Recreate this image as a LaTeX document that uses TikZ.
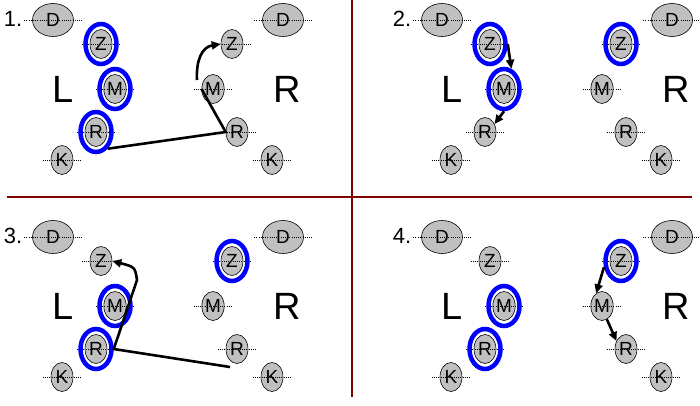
\documentclass[tikz,border=0pt]{standalone}
\usepackage{fontspec}
\setmainfont{Liberation Sans}
\usetikzlibrary{shapes.geometric,arrows.meta}
\definecolor{stonegray}{HTML}{C0C0C0}
\definecolor{ringblue}{HTML}{0000FF}
\definecolor{splitred}{HTML}{800000}
\tikzset{
    dotline/.style={draw=black, line width=0.6pt, dash pattern=on 1pt off 1.2pt},
    stone/.style={ellipse, draw=black, line width=0.6pt, fill=stonegray, inner sep=0pt,
        minimum width=22pt, minimum height=29pt, font=\fontsize{19}{19}\selectfont,
        append after command={([xshift=-8pt]\tikzlastnode.west) edge[dotline] ([xshift=8pt]\tikzlastnode.east)}},
    bigstone/.style={stone, minimum width=41pt, minimum height=33pt},
    ring/.style={ellipse, draw=ringblue, line width=4.5pt, inner sep=0pt, minimum width=31pt, minimum height=40pt},
    side/.style={font=\fontsize{38}{38}\selectfont},
    panelno/.style={font=\fontsize{22}{22}\selectfont},
    move/.style={draw=black, line width=2.6pt},
    movearrow/.style={move, -{Triangle[length=9pt,width=8pt]}},
    split/.style={draw=splitred, line width=1.1pt}
}
\begin{document}
\begin{tikzpicture}[x=1pt,y=-1pt]
    \useasboundingbox (0,0) rectangle (700,405);
    \draw[split] (352,0) -- (352,397);
    \draw[split] (7,197) -- (692,197);

    \node[panelno] (n1) at (13,19) {1.};
    \node[bigstone] (dl1) at (53,20) {D};
    \node[stone] (zl1) at (101,44) {Z};
    \node[stone] (ml1) at (115,89) {M};
    \node[stone] (rl1) at (96,132) {R};
    \node[stone] (kl1) at (62,160) {K};
    \node[side] (sl1) at (63,89) {L};
    \node[bigstone] (dr1) at (283,20) {D};
    \node[stone] (zr1) at (232,44) {Z};
    \node[stone] (mr1) at (213,89) {M};
    \node[stone] (rr1) at (237,132) {R};
    \node[stone] (kr1) at (272,160) {K};
    \node[side] (sr1) at (287,89) {R};

    \node[panelno] (n2) at (402,19) {2.};
    \node[bigstone] (dl2) at (442,20) {D};
    \node[stone] (zl2) at (490,44) {Z};
    \node[stone] (ml2) at (504,89) {M};
    \node[stone] (rl2) at (485,132) {R};
    \node[stone] (kl2) at (451,160) {K};
    \node[side] (sl2) at (452,89) {L};
    \node[bigstone] (dr2) at (672,20) {D};
    \node[stone] (zr2) at (621,44) {Z};
    \node[stone] (mr2) at (602,89) {M};
    \node[stone] (rr2) at (626,132) {R};
    \node[stone] (kr2) at (661,160) {K};
    \node[side] (sr2) at (676,89) {R};

    \node[panelno] (n3) at (13,236) {3.};
    \node[bigstone] (dl3) at (53,237) {D};
    \node[stone] (zl3) at (101,261) {Z};
    \node[stone] (ml3) at (115,306) {M};
    \node[stone] (rl3) at (96,349) {R};
    \node[stone] (kl3) at (62,377) {K};
    \node[side] (sl3) at (63,306) {L};
    \node[bigstone] (dr3) at (283,237) {D};
    \node[stone] (zr3) at (232,261) {Z};
    \node[stone] (mr3) at (213,306) {M};
    \node[stone] (rr3) at (237,349) {R};
    \node[stone] (kr3) at (272,377) {K};
    \node[side] (sr3) at (287,306) {R};

    \node[panelno] (n4) at (402,236) {4.};
    \node[bigstone] (dl4) at (442,237) {D};
    \node[stone] (zl4) at (490,261) {Z};
    \node[stone] (ml4) at (504,306) {M};
    \node[stone] (rl4) at (485,349) {R};
    \node[stone] (kl4) at (451,377) {K};
    \node[side] (sl4) at (452,306) {L};
    \node[bigstone] (dr4) at (672,237) {D};
    \node[stone] (zr4) at (621,261) {Z};
    \node[stone] (mr4) at (602,306) {M};
    \node[stone] (rr4) at (626,349) {R};
    \node[stone] (kr4) at (661,377) {K};
    \node[side] (sr4) at (676,306) {R};

    \node[ring] (zlring1) at (zl1) {};
    \node[ring] (mlring1) at (ml1) {};
    \node[ring] (rlring1) at (rl1) {};
    \node[ring] (zlring2) at (zl2) {};
    \node[ring] (mlring2) at (ml2) {};
    \node[ring] (zrring2) at (zr2) {};
    \node[ring] (mlring3) at (ml3) {};
    \node[ring] (rlring3) at (rl3) {};
    \node[ring] (zrring3) at (zr3) {};
    \node[ring] (mlring4) at (ml4) {};
    \node[ring] (rlring4) at (rl4) {};
    \node[ring] (zrring4) at (zr4) {};

    \coordinate (tail1) at (197,80);
    \draw[move] (rlring1.-55) -- (rr1.west) -- (mr1.west);
    \draw[movearrow] (tail1) .. controls (196,60) and (202,47) .. (zr1.west);

    \draw[movearrow] (zlring2.east) -- (mlring2.70);
    \draw[movearrow] (mlring2.south) -- (rl2.40);

    \coordinate (tail3) at (230,367);
    \coordinate (bend3) at (137,280);
    \draw[movearrow] (tail3) -- (rlring3.east) -- (bend3) .. controls (135,267) .. (zl3.east);

    \draw[movearrow] (zrring4.200) -- (mr4.115);
    \draw[movearrow] (mr4.-70) -- (rr4.140);
\end{tikzpicture}
\end{document}
